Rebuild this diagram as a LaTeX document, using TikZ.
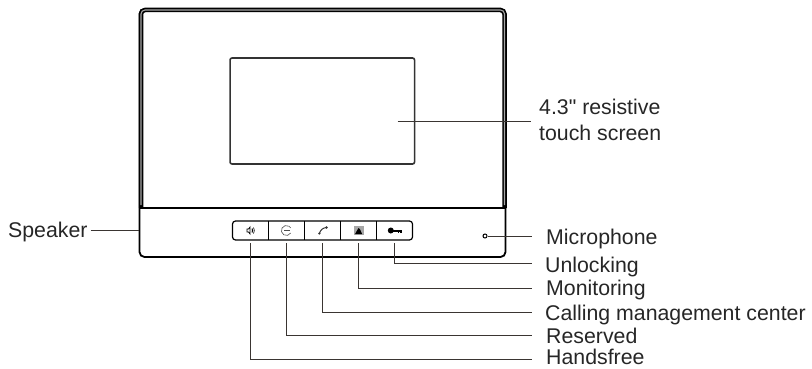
\documentclass[tikz,border=0pt]{standalone}
\usepackage{fontspec}
\setmainfont{Liberation Sans}[Ligatures=TeXOff]
\usetikzlibrary{positioning}
\definecolor{linegray}{HTML}{3A3532}
\tikzset{
  panel/.style={draw=black, line width=1.8pt, rounded corners=5pt, minimum width=366pt, minimum height=248pt, inner sep=0pt},
  screen/.style={draw=black!80, line width=1.6pt, rounded corners=2pt, minimum width=184.5pt, minimum height=106pt, inner sep=0pt},
  keypad/.style={draw=black, line width=1.2pt, rounded corners=3pt, minimum width=180pt, minimum height=19pt, inner sep=0pt},
  button/.style={minimum width=35.8pt, minimum height=19pt, inner sep=0pt},
  leader/.style={draw=linegray, line width=0.9pt},
  callout/.style={font=\fontsize{21.3pt}{26pt}\selectfont, text=black!85, inner sep=0pt, text height=15pt, text depth=1pt},
}
\begin{document}
\begin{tikzpicture}[x=1pt,y=-1pt]
  \useasboundingbox (0,0) rectangle (812,369);
  \node (panel) [panel] at (322.5,133) {};
  % double rim of the upper part
  \draw [line width=4.5pt, rounded corners=4pt] (141,208) -- (141,10) -- (504.5,10) -- (504.5,208);
  \draw [gray!70, line width=1.1pt, rounded corners=4pt] (141,205) -- (141,10) -- (504.5,10) -- (504.5,205);
  \draw [line width=2pt] (139,208) -- (505.5,208);
  \node (screen) [screen] at (322.3,111) {};

  \node (keypad) [keypad] at (322.5,230.5) {};
  \node (btn_speaker) [button, anchor=west] at (keypad.west) {};
  \node (btn_reserved) [button, right=0pt of btn_speaker] {};
  \node (btn_call) [button, right=0pt of btn_reserved] {};
  \node (btn_monitor) [button, right=0pt of btn_call] {};
  \node (btn_key) [button, right=0pt of btn_monitor] {};
  \foreach \b in {btn_speaker, btn_reserved, btn_call, btn_monitor}
    \draw [line width=1pt] (\b.north east) -- (\b.south east);

  % button icons
  \begin{scope}[shift={(btn_speaker.center)}]
    \draw [line width=0.7pt, fill=white] (-3,-1.5) -- (-1.5,-1.5) -- (0,-3.5) -- (0,3.5) -- (-1.5,1.5) -- (-3,1.5) -- cycle;
    \draw [line width=1pt] (2,-2) to [bend left=30] (2,2);
    \draw [line width=0.6pt] (3.5,-3) to [bend left=30] (3.5,3);
  \end{scope}
  \begin{scope}[shift={(btn_reserved.center)}]
    \draw [black!70, line width=0.6pt] (4.5,2.5) arc (30:330:5);
    \draw [black!70, line width=0.7pt] (-2,0) -- (3.5,0);
  \end{scope}
  \begin{scope}[shift={(btn_call.center)}]
    \draw [black!80, line width=1pt] (-3,3) to [bend left=35] (4,-3);
    \fill [black!80] (-3,3) circle (1.2pt) (4,-3) circle (1.4pt);
  \end{scope}
  \begin{scope}[shift={(btn_monitor.center)}]
    \fill [black!35] (-5,-4.5) rectangle (5,4.5);
    \fill [black] (-3.5,3.5) -- (-1,-1) -- (0,-2.5) -- (1.5,-1) -- (3.5,3.5) -- cycle;
  \end{scope}
  \begin{scope}[shift={(btn_key.center)}]
    \fill (-4,0) circle (3pt);
    \fill (-2,-1) rectangle (7,1);
    \fill (3,0) rectangle (4.5,2.5);
    \fill (5.5,0) rectangle (7,2.5);
  \end{scope}

  \node (speaker) [callout, anchor=west] at (8,230) {Speaker};
  \draw [leader] ([xshift=3pt]speaker.east) -- (speaker.east -| panel.west);

  \coordinate (screen_start) at (397.5,121);
  \coordinate (screen_end) at (531,121);
  \node (screen_label) [callout, align=left, text height=, text depth=, anchor=west] at (539,120) {4.3" resistive\\touch screen};
  \draw [leader] (screen_start) -- (screen_end);

  \node (mic) [circle, draw, line width=1pt, minimum size=4pt, inner sep=0pt] at (485,236) {};
  \coordinate (mic_end) at (532,236);
  \coordinate (key_end) at (532,263.5);
  \coordinate (monitor_end) at (532,288);
  \coordinate (call_end) at (532,312);
  \coordinate (reserved_end) at (532,335);
  \coordinate (speaker_end) at (532,359);
  \node (mic_label) [callout, right=14pt of mic_end, yshift=-1.3pt] {Microphone};
  \node (key_label) [callout, right=13pt of key_end, yshift=-1.5pt] {Unlocking};
  \node (monitor_label) [callout, right=14pt of monitor_end, yshift=0pt] {Monitoring};
  \node (call_label) [callout, right=13pt of call_end, yshift=-1pt] {Calling management center};
  \node (reserved_label) [callout, right=14pt of reserved_end, yshift=-1.5pt] {Reserved};
  \node (speaker_label) [callout, right=14pt of speaker_end, yshift=1.5pt] {Handsfree};

  \draw [leader] (mic) -- (mic_end);
  \draw [leader] ([yshift=-3pt]btn_key.south) |- (key_end);
  \draw [leader] ([yshift=-3pt]btn_monitor.south) |- (monitor_end);
  \draw [leader] ([yshift=-3pt]btn_call.south) |- (call_end);
  \draw [leader] ([yshift=-3pt]btn_reserved.south) |- (reserved_end);
  \draw [leader] ([yshift=-3pt]btn_speaker.south) |- (speaker_end);
\end{tikzpicture}
\end{document}
